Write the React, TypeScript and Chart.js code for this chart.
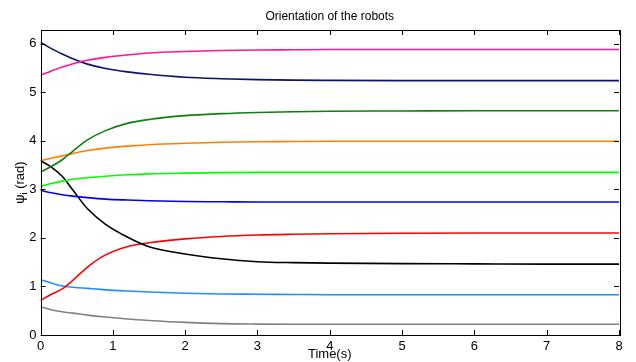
import React, { useEffect, useRef } from "react";
import { Chart, registerables } from "chart.js";

Chart.register(...registerables);

const titleText = "Orientation of the robots";
const xTitle = "Time(s)";
const xTicks = [0, 1, 2, 3, 4, 5, 6, 7, 8];
const yTicks = [0, 1, 2, 3, 4, 5, 6];

const timeS = [0, 0.15, 0.3, 0.45, 0.65, 0.9, 1.2, 1.5, 2, 2.5, 3, 3.5, 4, 5, 6, 7, 8];

const psiPink = [5.35, 5.44, 5.52, 5.59, 5.66, 5.72, 5.77, 5.81, 5.84, 5.86, 5.87, 5.875, 5.88, 5.88, 5.88, 5.88, 5.88];
const psiNavy = [6.03, 5.9, 5.79, 5.69, 5.58, 5.49, 5.42, 5.37, 5.31, 5.28, 5.26, 5.25, 5.245, 5.24, 5.24, 5.24, 5.24];
const psiDarkGreen = [3.36, 3.47, 3.61, 3.79, 4.02, 4.21, 4.36, 4.44, 4.52, 4.56, 4.585, 4.6, 4.61, 4.615, 4.62, 4.62, 4.62];
const psiOrange = [3.59, 3.64, 3.69, 3.74, 3.8, 3.85, 3.89, 3.92, 3.95, 3.97, 3.98, 3.985, 3.99, 3.99, 3.99, 3.99, 3.99];
const psiLime = [3.06, 3.12, 3.17, 3.21, 3.24, 3.27, 3.3, 3.32, 3.335, 3.345, 3.35, 3.35, 3.35, 3.35, 3.35, 3.35, 3.35];
const psiBlue = [2.98, 2.93, 2.89, 2.86, 2.83, 2.8, 2.78, 2.765, 2.75, 2.745, 2.74, 2.74, 2.74, 2.74, 2.74, 2.74, 2.74];
const psiBlack = [3.59, 3.46, 3.27, 2.98, 2.6, 2.28, 2.02, 1.82, 1.67, 1.57, 1.51, 1.49, 1.48, 1.47, 1.465, 1.46, 1.46];
const psiRed = [0.71, 0.84, 0.95, 1.13, 1.4, 1.65, 1.82, 1.9, 1.98, 2.03, 2.06, 2.075, 2.085, 2.095, 2.1, 2.1, 2.1];
const psiSky = [1.14, 1.07, 1.01, 0.985, 0.96, 0.93, 0.905, 0.885, 0.86, 0.845, 0.84, 0.835, 0.83, 0.83, 0.83, 0.83, 0.83];
const psiGray = [0.58, 0.52, 0.48, 0.45, 0.41, 0.37, 0.33, 0.3, 0.26, 0.235, 0.225, 0.22, 0.22, 0.22, 0.22, 0.22, 0.22];

const seriesList = [
  { values: psiPink, color: "#ff1493" },
  { values: psiNavy, color: "#10106e" },
  { values: psiDarkGreen, color: "#0d800d" },
  { values: psiOrange, color: "#ff8000" },
  { values: psiLime, color: "#00ff00" },
  { values: psiBlue, color: "#0000ff" },
  { values: psiBlack, color: "#000000" },
  { values: psiRed, color: "#ff0000" },
  { values: psiSky, color: "#1e8fff" },
  { values: psiGray, color: "#808080" },
];

const FONT = "'Liberation Sans', Arial, Helvetica, sans-serif";

const decorPlugin = {
  id: "decor",
  afterDraw(chart: any) {
    const ctx = chart.ctx;
    const { left, right, top, bottom } = chart.chartArea;
    const xs = chart.scales.x;
    const ys = chart.scales.y;
    ctx.save();
    ctx.strokeStyle = "#000";
    ctx.lineWidth = 1;
    ctx.strokeRect(Math.round(left) + 0.5, Math.round(top) + 0.5, Math.round(right - left), Math.round(bottom - top));
    const tl = 5;
    ctx.beginPath();
    xTicks.forEach((v) => {
      const px = Math.round(xs.getPixelForValue(v)) + 0.5;
      ctx.moveTo(px, bottom);
      ctx.lineTo(px, bottom - tl);
      ctx.moveTo(px, top);
      ctx.lineTo(px, top + tl);
    });
    yTicks.forEach((v) => {
      const py = Math.round(ys.getPixelForValue(v)) + 0.5;
      ctx.moveTo(left, py);
      ctx.lineTo(left + tl, py);
      ctx.moveTo(right, py);
      ctx.lineTo(right - tl, py);
    });
    ctx.stroke();

    ctx.fillStyle = "#000";
    ctx.font = `12px ${FONT}`;
    ctx.textAlign = "center";
    ctx.textBaseline = "middle";
    ctx.fillText(titleText, (left + right) / 2, 17);

    // y label with subscript
    ctx.translate(20, (top + bottom) / 2);
    ctx.rotate(-Math.PI / 2);
    const a = "ψ";
    const c = " (rad)";
    ctx.font = `9px ${FONT}`;
    const wb = ctx.measureText("i").width;
    ctx.font = `13px ${FONT}`;
    const wa = ctx.measureText(a).width;
    const wc = ctx.measureText(c).width;
    const total = wa + wb + wc;
    const x0 = -total / 2;
    ctx.textAlign = "left";
    ctx.textBaseline = "alphabetic";
    ctx.fillText(a, x0, 4);
    ctx.font = `9px ${FONT}`;
    ctx.fillText("i", x0 + wa, 7);
    ctx.font = `13px ${FONT}`;
    ctx.fillText(c, x0 + wa + wb, 4);
    ctx.restore();
  },
};

export default function App() {
  const ref = useRef<HTMLCanvasElement | null>(null);
  useEffect(() => {
    document.body.style.margin = "0";
    if (!ref.current) return;
    const chart = new Chart(ref.current, {
      type: "line",
      data: {
        datasets: seriesList.map((s) => ({
          data: timeS.map((t, i) => ({ x: t, y: s.values[i] })),
          borderColor: s.color,
          borderWidth: 1.6,
          pointRadius: 0,
          fill: false,
          cubicInterpolationMode: "monotone" as const,
        })),
      },
      options: {
        animation: false,
        responsive: false,
        devicePixelRatio: 1,
        layout: { padding: { left: 0, right: 17, top: 30, bottom: 0 } },
        plugins: { legend: { display: false }, tooltip: { enabled: false }, title: { display: false } },
        scales: {
          x: {
            type: "linear",
            min: 0,
            max: 8,
            afterBuildTicks: (s: any) => {
              s.ticks = xTicks.map((v) => ({ value: v }));
            },
            afterFit: (s: any) => {
              s.height = 27;
            },
            grid: { display: false, drawTicks: false },
            border: { display: false },
            ticks: { color: "#000", font: { size: 13, family: FONT }, padding: 4, maxRotation: 0 },
            title: { display: true, text: xTitle, color: "#000", font: { size: 13, family: FONT }, padding: { top: 0, bottom: 0 } },
          },
          y: {
            type: "linear",
            min: 0,
            max: 2 * Math.PI,
            afterBuildTicks: (s: any) => {
              s.ticks = yTicks.map((v) => ({ value: v }));
            },
            afterFit: (s: any) => {
              s.width = 40.5;
            },
            grid: { display: false, drawTicks: false },
            border: { display: false },
            ticks: { color: "#000", font: { size: 13, family: FONT }, padding: 4 },
          },
        },
      },
      plugins: [decorPlugin],
    });
    return () => chart.destroy();
  }, []);
  return (
    <div style={{ position: "absolute", left: 0, top: 0, width: 636, height: 362, background: "#fff" }}>
      <canvas ref={ref} width={636} height={362} style={{ display: "block", width: 636, height: 362 }} />
    </div>
  );
}
